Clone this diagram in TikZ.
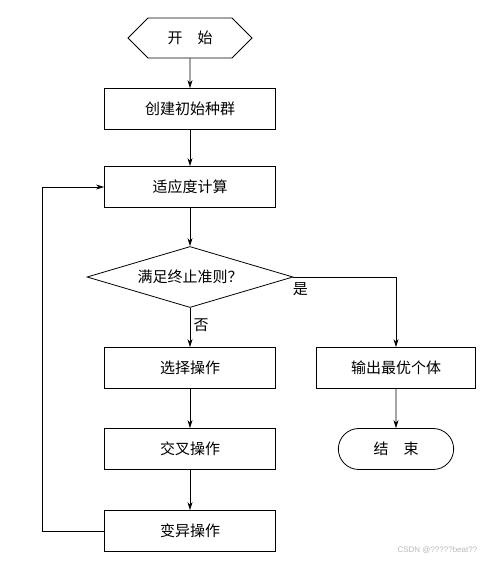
\documentclass[tikz,border=0pt]{standalone}
\usepackage{fontspec}
\usepackage{tikz}
\usetikzlibrary{positioning, shapes.geometric, shapes.misc, shapes.symbols, arrows.meta}
\newfontfamily\cjk{Noto Sans CJK SC}
\newfontfamily\markfont{Liberation Sans}

\begin{document}
\begin{tikzpicture}[->, >={Stealth[length=8pt,width=5pt]}, line width=0.8pt,
    font=\cjk\fontsize{15}{18}\selectfont,
    box/.style={draw, rectangle, minimum width=171pt, minimum height=41pt},
    startbox/.style={draw, signal, signal to=west and east, signal pointer angle=90,
        minimum width=124pt, minimum height=40pt},
    endbox/.style={draw, rounded rectangle, minimum width=122pt, minimum height=41pt},
    testbox/.style={draw, diamond, aspect=3, inner sep=0pt, minimum width=206pt, minimum height=61pt}]
			\useasboundingbox (0,0) rectangle (484pt,-562pt);
			\node (1) [startbox] at (190pt,-38pt) {开\quad 始};
			\node (2) [box, below of=1, node distance=71pt] {创建初始种群};
			\node (3) [box, below of=2, node distance=78pt] {适应度计算};
			\node (4) [testbox, below of=3, node distance=90pt] {满足终止准则？};
			\node (5) [box, below of=4, node distance=91pt] {选择操作};
			\node (6) [box, below of=5, node distance=81pt] {交叉操作};
			\node (7) [box, below of=6, node distance=82pt] {变异操作};
			\node (8) [box, right of=5, node distance=206pt, minimum width=159pt] {输出最优个体};
			\node (9) [endbox, below of=8, node distance=81pt] {结\quad 束};
			\node (10) [anchor=east, text=gray!55, font=\markfont\fontsize{8}{9}\selectfont] at (481pt,-550pt) {CSDN @?????beat??};

			\path
			  (1) edge node {} (2)
			  (2) edge node {} (3)
			  (3) edge node {} (4)
			  (4) edge node [right, pos=0.45] {否} (5)
			  (5) edge node {} (6)
			  (6) edge node {} (7)
			  (8) edge node {} (9);

			\draw (4.east) -| node [anchor=north, pos=0, xshift=7pt, yshift=-2pt] {是} (8.north);
			\draw (7.west) -- ++(-62pt,0) |- (3.west);

		  \end{tikzpicture}
\end{document}
